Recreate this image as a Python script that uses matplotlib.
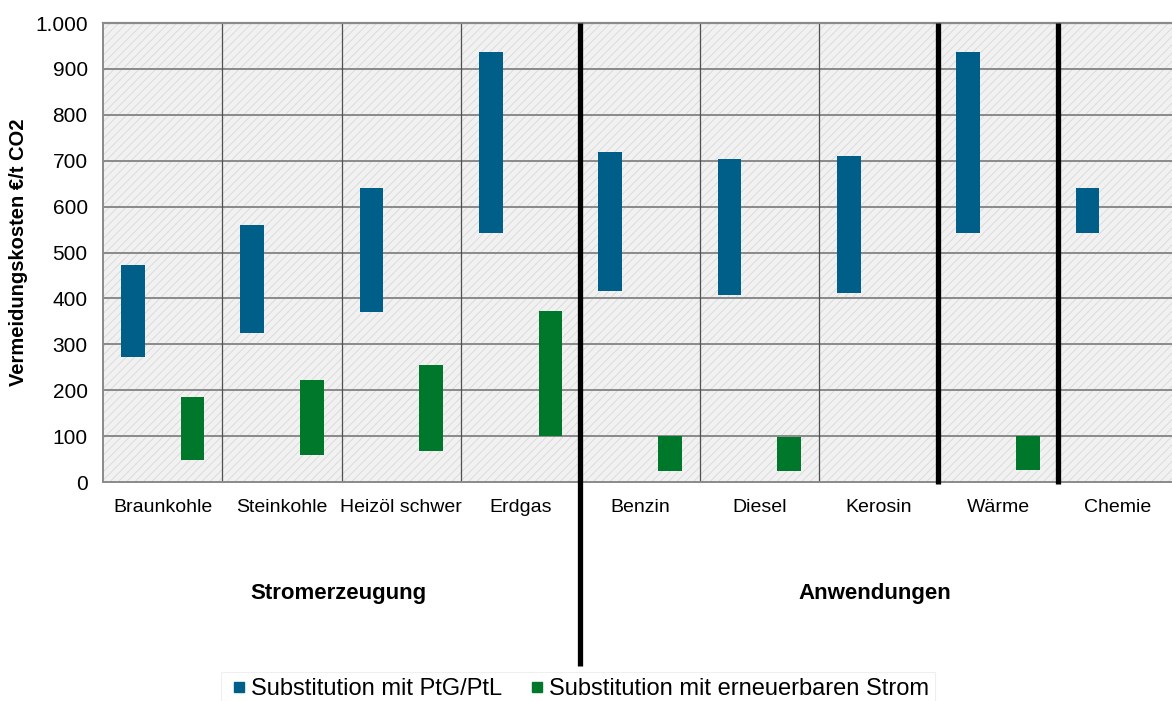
import matplotlib
matplotlib.use("Agg")
import matplotlib.pyplot as plt
from matplotlib.patches import Rectangle
from matplotlib.lines import Line2D
import numpy as np

categories = ['Braunkohle', 'Steinkohle', 'Heizöl schwer', 'Erdgas', 'Benzin',
              'Diesel', 'Kerosin', 'Wärme', 'Chemie']
ptg_low = [272, 325, 370, 543, 416, 407, 411, 543, 543]
ptg_high = [472, 560, 640, 937, 718, 704, 711, 937, 640]
ee_low = [48, 59, 68, 100, 25, 25, np.nan, 26, np.nan]
ee_high = [185, 222, 255, 372, 100, 97, np.nan, 100, np.nan]
yticks = [0, 100, 200, 300, 400, 500, 600, 700, 800, 900, 1000]
ytick_labels = ['0', '100', '200', '300', '400', '500', '600', '700', '800', '900', '1.000']
series_names = ['Substitution mit PtG/PtL', 'Substitution mit erneuerbaren Strom']
group_names = ['Stromerzeugung', 'Anwendungen']
separators = [3.5, 6.5, 7.5]

BLUE = '#005f89'
GREEN = '#00782c'

plt.rcParams['font.family'] = ['Liberation Sans', 'DejaVu Sans']
plt.rcParams['hatch.linewidth'] = 0.6
plt.rcParams['hatch.color'] = '#d8d8d8'

fig = plt.figure(figsize=(11.72, 7.01), dpi=100)
W, H = 1172, 701
left, right, top, bottom = 103, 1177, 23, 482
ax = fig.add_axes([left / W, 1 - bottom / H, (right - left) / W, (bottom - top) / H])

n = len(categories)
x = np.arange(n)
ax.set_xlim(-0.5, n - 0.5)
ax.set_ylim(0, 1000)

# hatched background
bg = Rectangle((0, 0), 1, 1, transform=ax.transAxes, facecolor='#f1f1f1',
               edgecolor='#d8d8d8', hatch='////', lw=0, zorder=0)
ax.add_patch(bg)
ax.set_facecolor('#f1f1f1')

# grid
for yv in yticks[1:]:
    ax.axhline(yv, color='#8a8a8a', lw=1.4, zorder=1)
for b in np.arange(0.5, n - 0.5, 1.0):
    if b not in separators:
        ax.axvline(b, color='#505050', lw=0.9, zorder=1)

# bars
ptg_low_a = np.array(ptg_low, float)
ptg_high_a = np.array(ptg_high, float)
ee_low_a = np.array(ee_low, float)
ee_high_a = np.array(ee_high, float)
ax.bar(x - 0.25, ptg_high_a - ptg_low_a, bottom=ptg_low_a, width=0.2,
       color=BLUE, zorder=3, label=series_names[0])
ax.bar(x + 0.25, ee_high_a - ee_low_a, bottom=ee_low_a, width=0.2,
       color=GREEN, zorder=3, label=series_names[1])

# separators
trans = ax.get_xaxis_transform()
for i, s in enumerate(separators):
    y0 = -0.40 if i == 0 else -0.005
    ax.add_line(Line2D([s, s], [y0, 1.0], transform=trans, color='black',
                       lw=3.8, clip_on=False, zorder=5, solid_capstyle='butt'))

for sp in ['top', 'right']:
    ax.spines[sp].set_visible(False)
for sp in ['left', 'bottom']:
    ax.spines[sp].set_color('#8a8a8a')
    ax.spines[sp].set_linewidth(1.4)
ax.axhline(1000, color='#8a8a8a', lw=1.6, zorder=2, clip_on=False)

ax.set_yticks(yticks)
ax.set_yticklabels(ytick_labels, fontsize=15)
ax.set_xticks(x)
ax.set_xticklabels(categories, fontsize=14)
ax.tick_params(axis='both', length=0)
ax.tick_params(axis='x', pad=12)
ax.tick_params(axis='y', pad=11)
ax.set_ylabel('Vermeidungskosten €/t CO2', fontsize=14.5, fontweight='bold')
ax.yaxis.set_label_coords((28 - left) / (right - left), 0.5)

# group labels
fig.text(338 / W, 1 - 594 / H, group_names[0], fontsize=16, fontweight='bold',
         ha='center', va='center')
fig.text(875 / W, 1 - 594 / H, group_names[1], fontsize=16, fontweight='bold',
         ha='center', va='center')

handles = [Line2D([], [], marker='s', color=BLUE, linestyle='none', markersize=7),
           Line2D([], [], marker='s', color=GREEN, linestyle='none', markersize=7)]
leg = fig.legend(handles, series_names, loc='center', bbox_to_anchor=(578 / W, 1 - 689 / H),
                 ncol=2, frameon=True, fancybox=False, handletextpad=0.0,
                 columnspacing=1.0, handlelength=1.0, borderpad=0.25,
                 prop={'family': ['Liberation Sans Narrow', 'Liberation Sans'], 'size': 17})
leg.get_frame().set_edgecolor('#ececec')
leg.get_frame().set_linewidth(0.8)

fig.savefig('out.png', dpi=100)
